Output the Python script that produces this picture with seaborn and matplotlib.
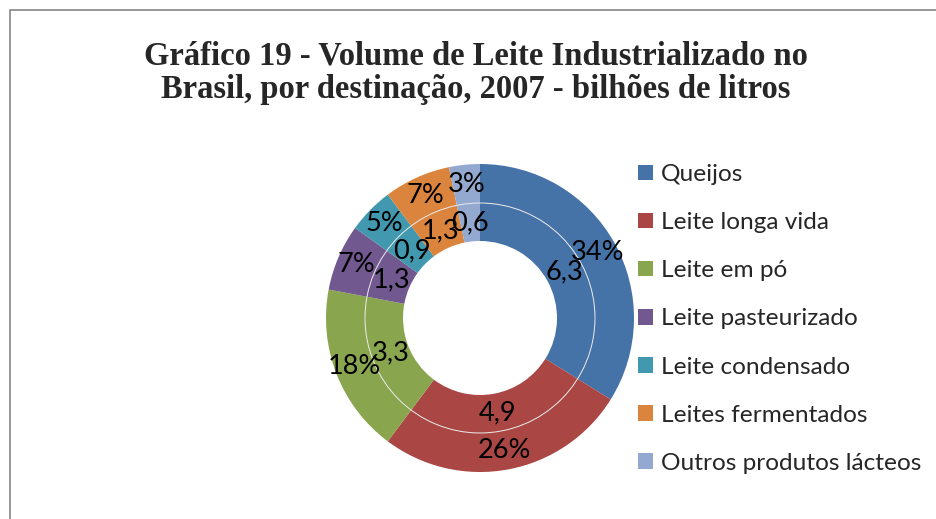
import matplotlib
matplotlib.use("Agg")
import matplotlib.pyplot as plt
import seaborn as sns
from matplotlib.patches import Patch, Rectangle, Circle

# ==============================
# DATA
# ==============================
categories = ["Queijos", "Leite longa vida", "Leite em pó", "Leite pasteurizado",
              "Leite condensado", "Leites fermentados", "Outros produtos lácteos"]
volumes = [6.3, 4.9, 3.3, 1.3, 0.9, 1.3, 0.6]  # bilhões de litros
title = "Gráfico 19 - Volume de Leite Industrializado no\nBrasil, por destinação, 2007 - bilhões de litros"

colors = ["#4572A7", "#AA4643", "#89A54E", "#71588F", "#4198AF", "#DB843D", "#93A9CF"]

# ==============================
# STYLE
# ==============================
sns.set_theme(style="white")
palette = sns.color_palette(colors)
plt.rcParams["font.family"] = ["Lato", "DejaVu Sans"]

W, H = 936, 519
fig = plt.figure(figsize=(W / 100, H / 100), dpi=100)

# outer frame (partly cropped in the original)
fig.add_artist(Rectangle((10 / W, -0.2), 1.2, (H - 10) / H + 0.2, transform=fig.transFigure,
                         fill=False, edgecolor="#868686", linewidth=1.2))

fig.text(476 / W, (H - 73) / H, title, ha="center", va="center",
         family="Liberation Serif", fontweight="bold", fontsize=23.5, linespacing=1.1)

# ==============================
# DONUT
# ==============================
cx, cy, R = 480, 318, 154
ax = fig.add_axes([(cx - R) / W, (H - cy - R) / H, 2 * R / W, 2 * R / H])
total = sum(volumes)
r_mid = 115 / R
r_hole = 77 / R

# outer ring - percentages
_, _, pct_texts = ax.pie(volumes, colors=palette, startangle=90, counterclock=False,
                         radius=1.0, autopct="%.0f%%", pctdistance=(1 + r_mid) / 2,
                         wedgeprops=dict(width=1 - r_mid, linewidth=0))
# inner ring - values
_, _, val_texts = ax.pie(volumes, colors=palette, startangle=90, counterclock=False,
                         radius=r_mid,
                         autopct=lambda p: f"{p * total / 100:.1f}".replace(".", ","),
                         pctdistance=(r_mid + r_hole) / 2 / r_mid,
                         wedgeprops=dict(width=r_mid - r_hole, linewidth=0))
# thin light line between the two rings
ax.add_patch(Circle((0, 0), r_mid, fill=False, edgecolor="#e8e8e8", linewidth=0.7, zorder=2))
for t in pct_texts + val_texts:
    t.set_fontsize(19.5)
    t.set_color("black")
    t.set_zorder(3)

ax.set_xlim(-1, 1)
ax.set_ylim(-1, 1)
ax.set_aspect("equal")
ax.axis("off")

# ==============================
# LEGEND
# ==============================
handles = [Patch(facecolor=c, edgecolor="none") for c in palette]
fig.legend(handles, categories, loc="upper left", bbox_to_anchor=(638 / W, (H - 164) / H),
           frameon=False, fontsize=17.6, handlelength=0.6, handleheight=0.6,
           handletextpad=0.35, labelspacing=1.11, borderpad=0, borderaxespad=0)

fig.savefig("out.png", dpi=100)
